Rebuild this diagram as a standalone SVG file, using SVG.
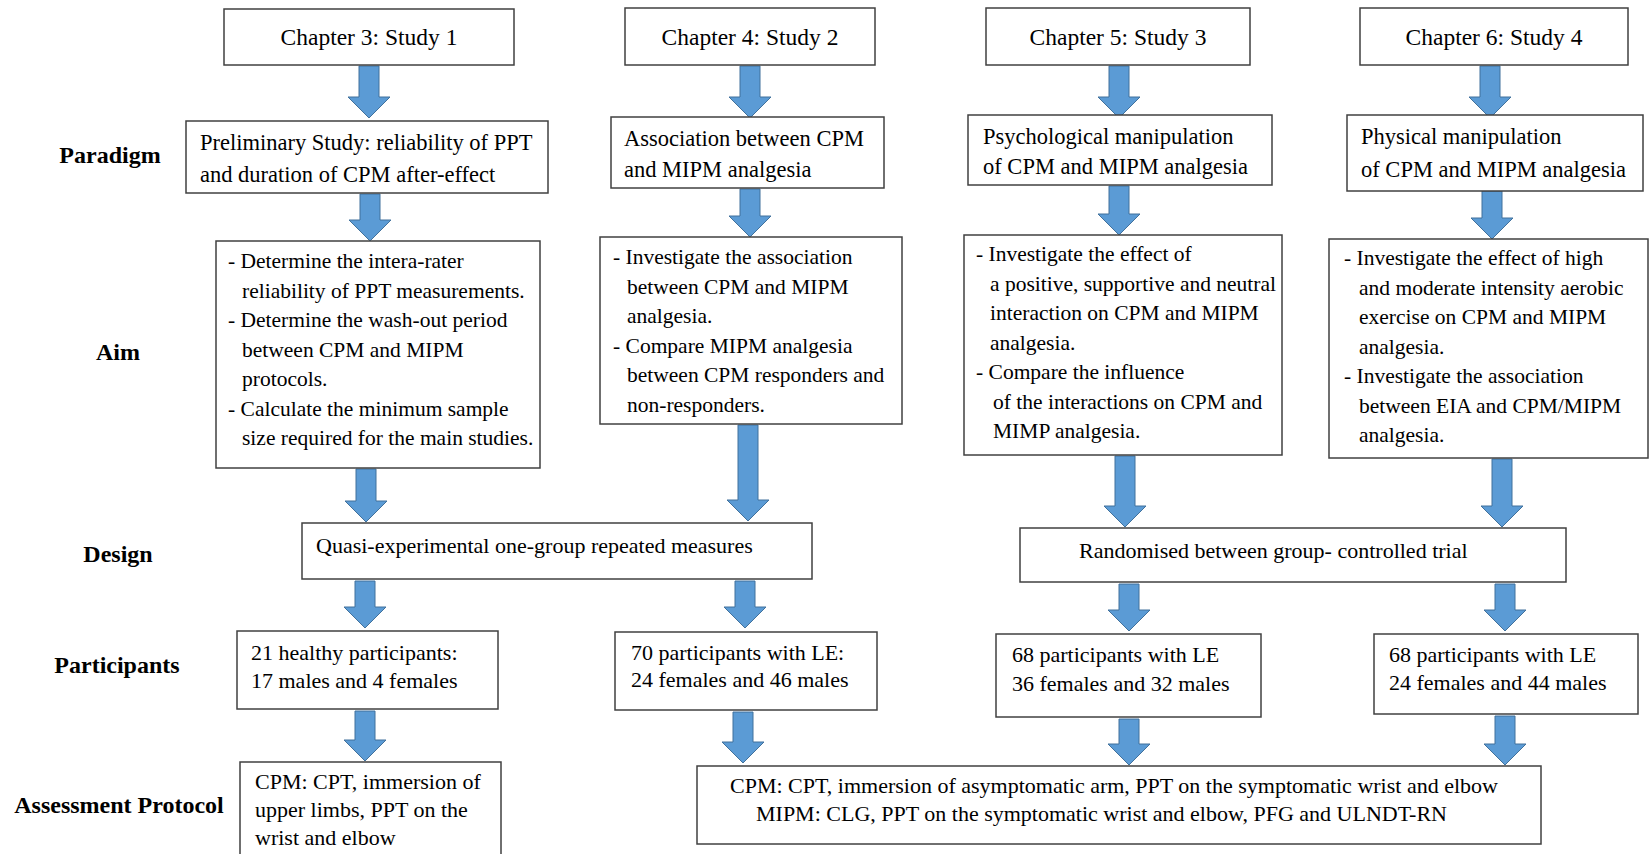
<svg xmlns="http://www.w3.org/2000/svg" width="1650" height="854" viewBox="0 0 1650 854">
<style>
.box{fill:#fff;stroke:#404040;stroke-width:1.5}
.arr{fill:#5B9BD5;stroke:#41719C;stroke-width:1}
text{font-family:"Liberation Serif","Times New Roman",serif;fill:#000}
.lbl{font-size:24px;font-weight:bold;text-anchor:middle}
.ch{font-size:23.5px;text-anchor:middle}
.p{font-size:22.5px}
.a{font-size:21.5px}
.t{font-size:22px}
</style>
<rect width="1650" height="854" fill="#fff"/>
<g id="labels">
<text class="lbl" x="110" y="163">Paradigm</text>
<text class="lbl" x="118" y="360">Aim</text>
<text class="lbl" x="118" y="562">Design</text>
<text class="lbl" x="117" y="673">Participants</text>
<text class="lbl" x="119" y="813">Assessment Protocol</text>
</g>
<g id="connectors">
<path class="arr" d="M359,66H379V97H390L369,118L348,97H359Z"/>
<path class="arr" d="M740,66H760V97H771L750,118L729,97H740Z"/>
<path class="arr" d="M1109,66H1129V97H1140L1119,118L1098,97H1109Z"/>
<path class="arr" d="M1480,66H1500V97H1511L1490,118L1469,97H1480Z"/>
<path class="arr" d="M360,194H380V220H391L370,241L349,220H360Z"/>
<path class="arr" d="M740,189H760V216H771L750,237L729,216H740Z"/>
<path class="arr" d="M1109,186H1129V214H1140L1119,235L1098,214H1109Z"/>
<path class="arr" d="M1482,191H1502V218H1513L1492,239L1471,218H1482Z"/>
<path class="arr" d="M356,469H376V501H387L366,522L345,501H356Z"/>
<path class="arr" d="M738,425H758V500H769L748,521L727,500H738Z"/>
<path class="arr" d="M1115,456H1135V506H1146L1125,527L1104,506H1115Z"/>
<path class="arr" d="M1492,459H1512V506H1523L1502,527L1481,506H1492Z"/>
<path class="arr" d="M355,581H375V607H386L365,628L344,607H355Z"/>
<path class="arr" d="M735,581H755V607H766L745,628L724,607H735Z"/>
<path class="arr" d="M1119,584H1139V610H1150L1129,631L1108,610H1119Z"/>
<path class="arr" d="M1495,584H1515V610H1526L1505,631L1484,610H1495Z"/>
<path class="arr" d="M355,711H375V740H386L365,761L344,740H355Z"/>
<path class="arr" d="M733,712H753V742H764L743,763L722,742H733Z"/>
<path class="arr" d="M1119,719H1139V744H1150L1129,765L1108,744H1119Z"/>
<path class="arr" d="M1495,716H1515V744H1526L1505,765L1484,744H1495Z"/>
</g>
<g id="ch3"><rect class="box" x="224" y="9" width="290" height="56"/><text class="ch" x="369" y="45">Chapter 3: Study 1</text></g>
<g id="ch4"><rect class="box" x="625" y="8" width="250" height="57"/><text class="ch" x="750" y="45">Chapter 4: Study 2</text></g>
<g id="ch5"><rect class="box" x="986" y="8" width="264" height="57"/><text class="ch" x="1118" y="45">Chapter 5: Study 3</text></g>
<g id="ch6"><rect class="box" x="1360" y="8" width="268" height="57"/><text class="ch" x="1494" y="45">Chapter 6: Study 4</text></g>
<g id="p1"><rect class="box" x="186" y="121" width="362" height="72"/><text class="p" x="200" y="150">Preliminary Study: reliability of PPT</text><text class="p" x="200" y="182">and duration of CPM after-effect</text></g>
<g id="p2"><rect class="box" x="611" y="117" width="273" height="71"/><text class="p" x="624" y="146">Association between CPM</text><text class="p" x="624" y="177">and MIPM analgesia</text></g>
<g id="p3"><rect class="box" x="968" y="115" width="304" height="70"/><text class="p" x="983" y="144">Psychological manipulation</text><text class="p" x="983" y="174">of CPM and MIPM analgesia</text></g>
<g id="p4"><rect class="box" x="1347" y="115" width="296" height="76"/><text class="p" x="1361" y="144">Physical manipulation</text><text class="p" x="1361" y="177">of CPM and MIPM analgesia</text></g>
<g id="a1"><rect class="box" x="216" y="241" width="324" height="227"/>
<text class="a" x="228" y="268">- Determine the intera-rater</text>
<text class="a" x="242" y="297.5">reliability of PPT measurements.</text>
<text class="a" x="228" y="327">- Determine the wash-out period</text>
<text class="a" x="242" y="356.5">between CPM and MIPM</text>
<text class="a" x="242" y="386">protocols.</text>
<text class="a" x="228" y="415.5">- Calculate the minimum sample</text>
<text class="a" x="242" y="445">size required for the main studies.</text></g>
<g id="a2"><rect class="box" x="600" y="237" width="302" height="187"/>
<text class="a" x="613" y="264">- Investigate the association</text>
<text class="a" x="627" y="293.5">between CPM and MIPM</text>
<text class="a" x="627" y="323">analgesia.</text>
<text class="a" x="613" y="352.5">- Compare MIPM analgesia</text>
<text class="a" x="627" y="382">between CPM responders and</text>
<text class="a" x="627" y="411.5">non-responders.</text></g>
<g id="a3"><rect class="box" x="964" y="235" width="318" height="220"/>
<text class="a" x="976" y="261">- Investigate the effect of</text>
<text class="a" x="990" y="290.5">a positive, supportive and neutral</text>
<text class="a" x="990" y="320">interaction on CPM and MIPM</text>
<text class="a" x="990" y="349.5">analgesia.</text>
<text class="a" x="976" y="379">- Compare the influence</text>
<text class="a" x="993" y="408.5">of the interactions on CPM and</text>
<text class="a" x="993" y="438">MIMP analgesia.</text></g>
<g id="a4"><rect class="box" x="1329" y="239" width="319" height="219"/>
<text class="a" x="1344" y="265">- Investigate the effect of high</text>
<text class="a" x="1359" y="294.5">and moderate intensity aerobic</text>
<text class="a" x="1359" y="324">exercise on CPM and MIPM</text>
<text class="a" x="1359" y="353.5">analgesia.</text>
<text class="a" x="1344" y="383">-  Investigate the association</text>
<text class="a" x="1359" y="412.5">between EIA and CPM/MIPM</text>
<text class="a" x="1359" y="442">analgesia.</text></g>
<g id="d1"><rect class="box" x="302" y="523" width="510" height="56"/><text class="t" x="316" y="553">Quasi-experimental one-group repeated measures</text></g>
<g id="d2"><rect class="box" x="1020" y="528" width="546" height="54"/><text class="t" x="1079" y="558">Randomised between group- controlled trial</text></g>
<g id="pa1"><rect class="box" x="237" y="631" width="261" height="78"/><text class="t" x="251" y="660">21 healthy participants:</text><text class="t" x="251" y="688">17 males and 4 females</text></g>
<g id="pa2"><rect class="box" x="615" y="632" width="262" height="78"/><text class="t" x="631" y="660">70 participants with LE:</text><text class="t" x="631" y="687">24 females and 46 males</text></g>
<g id="pa3"><rect class="box" x="996" y="634" width="265" height="83"/><text class="t" x="1012" y="662">68 participants with LE</text><text class="t" x="1012" y="691">36 females and 32 males</text></g>
<g id="pa4"><rect class="box" x="1374" y="634" width="264" height="80"/><text class="t" x="1389" y="662">68 participants with LE</text><text class="t" x="1389" y="690">24 females and 44 males</text></g>
<g id="as1"><rect class="box" x="240" y="762" width="261" height="100"/><text class="t" x="255" y="789">CPM: CPT, immersion of</text><text class="t" x="255" y="817">upper limbs, PPT on the</text><text class="t" x="255" y="845">wrist and elbow</text></g>
<g id="as2"><rect class="box" x="697" y="766" width="844" height="78"/><text class="t" x="730" y="793">CPM: CPT, immersion of asymptomatic arm, PPT on the symptomatic wrist and elbow</text><text class="t" x="756" y="821">MIPM: CLG, PPT on the symptomatic wrist and elbow, PFG and ULNDT-RN</text></g>
</svg>
